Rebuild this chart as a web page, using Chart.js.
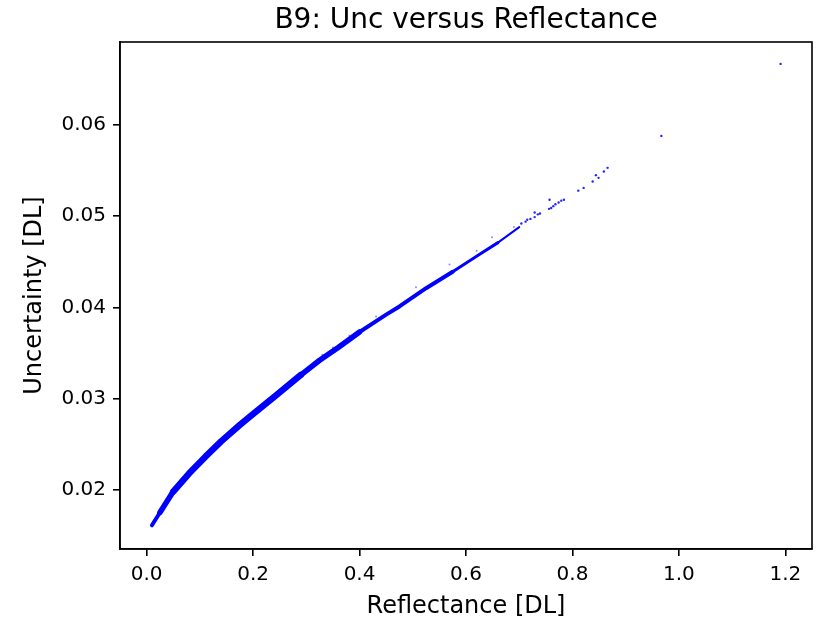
<!DOCTYPE html>
<html>
<head>
<meta charset="utf-8">
<script src="https://cdn.jsdelivr.net/npm/chart.js@4.4.0/dist/chart.umd.min.js"></script>
<style>
  html, body { margin: 0; padding: 0; background: #fff; }
  #wrap { width: 820px; height: 621px; }
</style>
</head>
<body>
<div id="wrap"><canvas id="uncChart" width="820" height="621"></canvas></div>
<script>
// main dense band of the scatter
var bandX = [0.010, 0.025, 0.050, 0.080, 0.110, 0.140, 0.175, 0.200, 0.240, 0.290,
             0.325, 0.360, 0.400, 0.450, 0.475, 0.525, 0.575, 0.625, 0.660, 0.700];
var bandY = [0.0161, 0.0175, 0.0198, 0.0218, 0.0236, 0.0253, 0.0271, 0.0283, 0.0302, 0.0326,
             0.0342, 0.0356, 0.0373, 0.0392, 0.0401, 0.0421, 0.0439, 0.0458, 0.0471, 0.0488];

// sparse points at the upper end
var tailX = [0.704, 0.712, 0.715, 0.721, 0.729, 0.729, 0.735, 0.739, 0.756, 0.757, 0.760, 0.764,
             0.768, 0.774, 0.779, 0.784, 0.811, 0.821, 0.838, 0.844, 0.849, 0.859, 0.866, 0.967, 1.191];
var tailY = [0.0492, 0.0494, 0.0496, 0.0497, 0.0499, 0.0504, 0.0502, 0.0503, 0.0508, 0.0518, 0.0509, 0.0511,
             0.0513, 0.0515, 0.0517, 0.0518, 0.0528, 0.0531, 0.0538, 0.0545, 0.0542, 0.0549, 0.0553, 0.0588, 0.0667];

// stray points just above the band
var strayX = [0.330, 0.350, 0.381, 0.431, 0.506, 0.569, 0.620, 0.649, 0.690];
var strayY = [0.0348, 0.0356, 0.0369, 0.0390, 0.0422, 0.0447, 0.0462, 0.0477, 0.0488];

var xTicks = [0.0, 0.2, 0.4, 0.6, 0.8, 1.0, 1.2];
var yTicks = [0.02, 0.03, 0.04, 0.05, 0.06];

function toPoints(xs, ys) {
    var pts = [];
    for (var i = 0; i < xs.length; i++) {
        pts.push({x: xs[i], y: ys[i]});
    }
    return pts;
}

// band gets thinner as reflectance grows
function bandWidth(x) {
    if (x < 0.02) return 4;
    if (x < 0.04) return 5.5;
    if (x < 0.25) return 6.5;
    if (x < 0.4) return 5.5;
    if (x < 0.55) return 4;
    if (x < 0.65) return 3;
    return 2;
}

var framePlugin = {
    id: 'frame',
    afterDraw: function(chart) {
        var a = chart.chartArea;
        var ctx = chart.ctx;
        ctx.save();
        ctx.strokeStyle = '#000';
        ctx.lineWidth = 1.6;
        ctx.strokeRect(a.left, a.top, a.right - a.left, a.bottom - a.top);
        ctx.restore();
    }
};

var font = "'DejaVu Sans', sans-serif";

var uncChart = new Chart(document.getElementById('uncChart'), {
    type: 'scatter',
    data: {
        datasets: [{
            label: 'band',
            data: toPoints(bandX, bandY),
            showLine: true,
            pointRadius: 0,
            borderColor: '#0000ff',
            borderCapStyle: 'round',
            borderJoinStyle: 'round',
            borderWidth: 5,
            segment: {
                borderWidth: function(ctx) { return bandWidth(ctx.p0.parsed.x); }
            }
        }, {
            label: 'tail',
            data: toPoints(tailX, tailY),
            pointRadius: 1.2,
            borderWidth: 0,
            backgroundColor: 'rgba(0,0,255,0.85)'
        }, {
            label: 'stray',
            data: toPoints(strayX, strayY),
            pointRadius: 1,
            borderWidth: 0,
            backgroundColor: 'rgba(60,60,255,0.6)'
        }]
    },
    options: {
        responsive: false,
        animation: false,
        layout: { padding: { top: 0, left: 0, right: 8, bottom: 0 } },
        plugins: {
            legend: { display: false },
            tooltip: { enabled: false },
            title: {
                display: true,
                text: 'B9: Unc versus Reflectance',
                fullSize: false,
                color: '#000',
                font: { family: font, size: 28, weight: 'normal' },
                padding: { top: 3.5, bottom: 4.9 }
            }
        },
        scales: {
            x: {
                type: 'linear',
                min: -0.05,
                max: 1.25,
                afterFit: function(scale) { scale.height = 72; },
                afterBuildTicks: function(scale) {
                    scale.ticks = xTicks.map(function(v) { return {value: v}; });
                },
                ticks: {
                    color: '#000',
                    padding: 7,
                    maxRotation: 0,
                    font: { family: font, size: 20 },
                    callback: function(v) { return v.toFixed(1); }
                },
                grid: { drawOnChartArea: false, drawTicks: true, tickLength: 7, color: '#000', lineWidth: 1.6 },
                border: { display: true, color: '#000', width: 1.6 },
                title: {
                    display: true,
                    text: 'Reflectance [DL]',
                    color: '#000',
                    font: { family: font, size: 24 },
                    padding: { top: 0, bottom: 0 }
                }
            },
            y: {
                type: 'linear',
                min: 0.0135,
                max: 0.0691,
                afterFit: function(scale) { scale.width = 120; },
                afterBuildTicks: function(scale) {
                    scale.ticks = yTicks.map(function(v) { return {value: v}; });
                },
                ticks: {
                    color: '#000',
                    padding: 7,
                    font: { family: font, size: 20 },
                    callback: function(v) { return v.toFixed(2); }
                },
                grid: { drawOnChartArea: false, drawTicks: true, tickLength: 7, color: '#000', lineWidth: 1.6 },
                border: { display: true, color: '#000', width: 1.6 },
                title: {
                    display: true,
                    text: 'Uncertainty [DL]',
                    color: '#000',
                    font: { family: font, size: 24 },
                    padding: { top: 20, bottom: 0 }
                }
            }
        }
    },
    plugins: [framePlugin]
});
</script>
</body>
</html>
